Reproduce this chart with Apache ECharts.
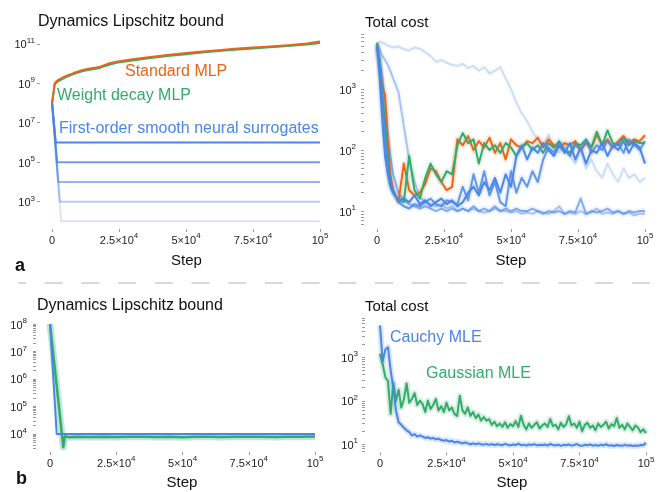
<!DOCTYPE html>
<html>
<head>
<meta charset="utf-8">
<script src="https://cdn.jsdelivr.net/npm/echarts@6/dist/echarts.min.js"></script>
<style>
  html, body { margin: 0; padding: 0; background: #fff; }
  #chart { width: 661px; height: 492px; }
</style>
</head>
<body>
<div id="chart"></div>
<script>
// x ticks shared by all four panels
const xTickValues = [0, 25000, 50000, 75000, 100000]
const xTickLabels = [['0', ''], ['2.5×10', '4'], ['5×10', '4'], ['7.5×10', '4'], ['10', '5']]

// panel a, left: dynamics Lipschitz bound
const lipSteps = [0, 1000, 2000, 5000, 8000, 11500, 14000, 16500, 18000, 21000, 24000, 30000, 36000, 43000, 50000, 55000, 62000, 68000, 75000, 80000, 88000, 95000, 100000]
const lipStandard = [1e8, 1e9, 1.4e9, 2.3e9, 3.3e9, 4.8e9, 5.6e9, 6.3e9, 7e9, 1e10, 1.25e10, 1.65e10, 2.1e10, 2.75e10, 3.4e10, 4e10, 4.8e10, 5.6e10, 6.5e10, 7.2e10, 8.6e10, 1.05e11, 1.3e11]
const lipWeightDecay = [1e8, 9e8, 1.2e9, 2e9, 2.9e9, 4.2e9, 4.8e9, 5.4e9, 6.2e9, 8.5e9, 1.1e10, 1.45e10, 1.85e10, 2.4e10, 3e10, 3.5e10, 4.3e10, 5e10, 5.8e10, 6.5e10, 7.7e10, 9.2e10, 1.1e11]
const lipSurrogateStart = 1e8
const lipSurrogateLevels = [1e6, 1e5, 1e4, 1e3, 1e2]
const lipSurrogateDropSteps = [1400, 1900, 2300, 2900, 3400]
const lipSurrogateOpacity = [1, 0.8, 0.6, 0.42, 0.22]
const lipYTicks = [1e3, 1e5, 1e7, 1e9, 1e11]

// panel a, right: total cost
const costSteps = [0, 1000, 2000, 3000, 4000, 5000, 6000,
  8000, 10000, 12000, 14000, 16000, 18000, 20000, 22000, 24000, 26000, 28000,
  30000, 32000, 34000, 36000, 38000, 40000, 42000, 44000, 46000, 48000, 50000,
  52000, 54000, 56000, 58000, 60000, 62000, 64000, 66000, 68000, 70000, 72000,
  74000, 76000, 78000, 80000, 82000, 84000, 86000, 88000, 90000, 92000, 94000, 96000, 98000, 100000]
const costStandard = [5400, 2500, 1100, 800, 150, 40, 22,
  14, 60, 22, 18, 20, 28, 50, 45, 30, 22, 25,
  150, 120, 170, 100, 140, 110, 160, 90, 130, 70, 150,
  120, 110, 140, 130, 160, 110, 150, 120, 110, 130, 120,
  140, 100, 130, 110, 180, 120, 150, 110, 140, 170, 130, 150, 140, 175]
const costWeightDecay = [5800, 3000, 800, 300, 80, 30, 20,
  15, 14, 80, 22, 16, 35, 60, 40, 30, 45, 40,
  120, 190, 130, 150, 60, 130, 100, 120, 90, 130, 110,
  80, 110, 130, 100, 120, 90, 130, 110, 140, 100, 90,
  130, 120, 150, 110, 200, 120, 210, 130, 120, 160, 120, 140, 130, 130]
const costSurrogateA = [5000, 1500, 300, 80, 40, 25, 20,
  15, 16, 14, 18, 13, 15, 12, 14, 16, 13, 15,
  12, 14, 20, 25, 18, 30, 22, 35, 20, 40, 25,
  80, 120, 70, 110, 90, 130, 100, 80, 120, 90, 130,
  70, 110, 60, 100, 90, 130, 80, 120, 100, 140, 90, 130, 110, 60]
const costSurrogateB = [5200, 2500, 700, 150, 60, 30, 22,
  14, 12, 11, 13, 12, 14, 16, 13, 12, 15, 14,
  13, 25, 15, 40, 20, 45, 18, 30, 14, 12, 45,
  20, 35, 25, 45, 30, 70, 110, 90, 130, 100, 80,
  120, 100, 140, 90, 120, 100, 140, 110, 130, 90, 150, 120, 100, 140]
const costSurrogateC = [4500, 3000, 1500, 600, 200, 80, 40,
  20, 15, 13, 12, 11, 12, 11, 10, 11, 10, 11,
  10, 11, 10, 12, 10, 11, 10, 12, 10, 11, 10,
  11, 10, 10, 11, 10, 9, 10, 9.5, 10, 9, 10,
  9.5, 16, 9, 10, 9.5, 10, 11, 9.5, 10, 9, 10, 9.5, 10, 10]
const costSurrogateD = [5500, 4500, 3500, 3000, 2500, 2000, 1500,
  900, 250, 70, 30, 17, 14, 13, 12, 13, 11, 12,
  10, 11, 10, 11, 10, 9.5, 10, 11, 10, 10, 9.5,
  10, 9, 9.5, 9, 10, 9.5, 9, 10, 12, 9, 9.5,
  9, 10, 9, 9.5, 11, 9, 9.5, 9, 10, 9, 9.5, 8.5, 9, 9]
const costSurrogateE = [5000, 6000, 5800, 5500, 5200, 5000, 4800,
  5000, 4500, 4300, 4800, 4600, 4000, 3500, 2800, 3000, 2700, 2500,
  2400, 2600, 2200, 2400, 2000, 2300, 1800, 2000, 2300, 1500, 1000,
  600, 400, 300, 200, 150, 120, 180, 100, 90, 130, 80,
  60, 100, 50, 70, 45, 35, 60, 40, 30, 50, 35, 40, 30, 35]
const costYTicks = [10, 100, 1000]

// panel b, left: dynamics Lipschitz bound
const lipBCauchySteps = [0, 2500, 100000]
const lipBCauchy = [1e8, 1e4, 1e4]
const lipBGaussSteps = [0, 5000, 5600, 7000, 10000, 15000, 20000, 25000, 30000, 35000, 40000, 45000, 50000, 55000, 60000, 65000, 70000, 75000, 80000, 85000, 90000, 95000, 100000]
const lipBGauss = [1e8, 3300, 8200, 7600, 7800, 7700, 7900, 7700, 7800, 7900, 7700, 7800, 7600, 7800, 7900, 7700, 7800, 7900, 7800, 7700, 7900, 7800, 8000]
const lipBYTicks = [1e4, 1e5, 1e6, 1e7, 1e8]

// panel b, right: total cost
const costBSteps = [0, 1000, 2000, 3000, 4000, 5000, 6000, 7000, 8000, 9000, 10000,
  11000, 12000, 13000, 14000, 15000, 16000, 17000, 18000, 19000, 20000,
  21000, 22000, 23000, 24000, 25000, 26000, 27000, 28000, 29000, 30000,
  31000, 32000, 33000, 34000, 35000, 36000, 37000, 38000, 39000, 40000,
  41000, 42000, 43000, 44000, 45000, 46000, 47000, 48000, 49000, 50000,
  51000, 52000, 53000, 54000, 55000, 56000, 57000, 58000, 59000, 60000,
  61000, 62000, 63000, 64000, 65000, 66000, 67000, 68000, 69000, 70000,
  71000, 72000, 73000, 74000, 75000, 76000, 77000, 78000, 79000, 80000,
  81000, 82000, 83000, 84000, 85000, 86000, 87000, 88000, 89000, 90000,
  91000, 92000, 93000, 94000, 95000, 96000, 97000, 98000, 99000, 100000]
const costBCauchy = [5400, 800, 1500, 1700, 500, 200, 60, 32, 28, 24, 21,
  19, 16, 17, 15, 16, 15, 14, 14.5, 13.5, 14,
  13, 13.5, 12.5, 12, 12.5, 11.5, 12, 11, 11.5, 11,
  10.5, 11, 10.5, 10, 10.5, 10, 10.5, 10, 9.8, 10.2,
  9.7, 10.1, 9.6, 10, 9.8, 9.5, 10.2, 9.7, 9.4, 9.9,
  9.6, 10.3, 9.5, 9.8, 9.3, 9.9, 9.6, 10.1, 9.4, 9.7,
  9.5, 9.9, 9.3, 10.2, 9.6, 9.4, 9.8, 9.2, 9.7, 9.5,
  9.9, 9.3, 9.6, 10.1, 9.4, 9.2, 9.7, 9.5, 9.9, 9.3,
  9.6, 9.2, 9.8, 9.4, 10, 9.3, 9.5, 9.1, 9.6, 9.4,
  9.2, 9.7, 9.3, 9.5, 9.1, 9.4, 9.2, 9.6, 9.5, 10.8]
const costBGauss = [1200, 700, 350, 280, 50, 260, 100, 180, 70, 110, 250,
  90, 110, 150, 80, 100, 85, 55, 100, 65, 80,
  110, 60, 75, 55, 90, 60, 70, 50, 45, 130,
  60, 50, 70, 45, 55, 40, 48, 35, 42, 35,
  38, 28, 33, 26, 30, 25, 32, 24, 29, 26,
  34, 25, 45, 28, 22, 30, 24, 28, 32, 23,
  27, 30, 25, 38, 26, 28, 22, 31, 25, 29,
  44, 27, 30, 24, 33, 20, 28, 31, 24, 27,
  21, 30, 25, 28, 33, 23, 29, 26, 40, 24,
  28, 22, 30, 25, 21, 27, 24, 19, 22, 18]
const costBYTicks = [10, 100, 1000]

const ORANGE = '#ec6416'
const GREEN = '#33ab6c'
const BLUE = '#4a86e8'
const FONT = '"Liberation Sans", Arial, Helvetica, sans-serif'

// all log ticks (1..9 x 10^d) between lo and hi
function logTicks(lo, hi) {
  const out = []
  for (let d = Math.floor(Math.log10(lo)); d <= Math.ceil(Math.log10(hi)); d++) {
    for (let m = 1; m < 10; m++) {
      const v = m * Math.pow(10, d)
      if (v >= lo * 0.999 && v <= hi * 1.001) out.push(v)
    }
  }
  return out
}

function pairs(xs, ys) {
  return xs.map((x, i) => [x, ys[i]])
}

const supRich = {
  b: { fontSize: 11, color: '#222', fontFamily: FONT, verticalAlign: 'bottom', lineHeight: 14 },
  s: { fontSize: 8, color: '#222', fontFamily: FONT, verticalAlign: 'top', lineHeight: 14 },
}

// frame starts a little before step 0, like the original plot range
function xAxis(gi, min, nameGap) {
  return {
    type: 'value', gridIndex: gi, min: min, max: 100000,
    name: 'Step', nameLocation: 'middle', nameGap: nameGap,
    nameTextStyle: { fontSize: 15, color: '#111', fontFamily: FONT, padding: [0, 0, 0, 13] },
    axisLine: { show: false, onZero: false },
    splitLine: { show: false },
    axisTick: { length: 3, customValues: xTickValues, lineStyle: { color: '#999' } },
    axisLabel: {
      margin: 3,
      customValues: xTickValues,
      formatter: (v) => {
        const i = xTickValues.indexOf(v)
        if (i < 0) return ''
        const [b, s] = xTickLabels[i]
        return s ? `{b|${b}}{s|${s}}` : `{b|${b}}`
      },
      rich: supRich,
    },
  }
}

function yAxis(gi, min, max, labels, ticks, margin) {
  return {
    type: 'log', gridIndex: gi, min: min, max: max,
    axisLine: { show: false, onZero: false },
    splitLine: { show: false },
    axisTick: { length: 3, customValues: ticks, lineStyle: { color: '#999' } },
    axisLabel: {
      margin: margin,
      customValues: labels,
      formatter: (v) => `{b|10}{s|${Math.round(Math.log10(v))}}`,
      rich: supRich,
    },
  }
}

function line(gi, data, color, opacity, width, z) {
  return {
    type: 'line', xAxisIndex: gi, yAxisIndex: gi, data: data,
    showSymbol: false, silent: true, animation: false, z: z,
    lineStyle: { color: color, opacity: Math.min(opacity, 1), width: width, join: 'round' },
  }
}

function costLine(gi, xs, ys, color, opacity, z) {
  return [
    line(gi, pairs(xs, ys), color, opacity * 0.13, 6, z),
    line(gi, pairs(xs, ys), color, opacity, 2, z + 1),
  ]
}

const series = []
lipSurrogateLevels.forEach((lvl, i) => {
  series.push(line(0, [[0, lipSurrogateStart], [lipSurrogateDropSteps[i], lvl], [100000, lvl]], BLUE, lipSurrogateOpacity[i], 2, 2))
})
series.push(line(0, pairs(lipSteps, lipWeightDecay), GREEN, 1, 2, 3))
series.push(line(0, pairs(lipSteps, lipStandard), ORANGE, 1, 2, 4))

series.push(...costLine(1, costSteps, costSurrogateE, BLUE, 0.25, 2))
series.push(...costLine(1, costSteps, costSurrogateD, BLUE, 0.45, 2))
series.push(...costLine(1, costSteps, costSurrogateC, BLUE, 0.65, 2))
series.push(...costLine(1, costSteps, costStandard, ORANGE, 1, 4))
series.push(...costLine(1, costSteps, costWeightDecay, GREEN, 1, 4))
series.push(...costLine(1, costSteps, costSurrogateB, BLUE, 0.85, 6))
series.push(...costLine(1, costSteps, costSurrogateA, BLUE, 1, 6))

series.push(line(2, pairs(lipBGaussSteps, lipBGauss), GREEN, 0.3, 7, 2))
series.push(line(2, pairs(lipBGaussSteps, lipBGauss), GREEN, 1, 2.5, 3))
series.push(line(2, pairs(lipBCauchySteps, lipBCauchy), BLUE, 1, 2, 4))

series.push(...costLine(3, costBSteps, costBGauss, GREEN, 1.6, 2))
series.push(...costLine(3, costBSteps, costBCauchy, BLUE, 1.6, 4))

const titleStyle = (size) => ({ fontSize: size, fontWeight: 'normal', color: '#111', fontFamily: FONT })

const option = {
  backgroundColor: '#fff',
  animation: false,
  title: [
    { text: 'Dynamics Lipschitz bound', left: 38, top: 14, padding: 0, textStyle: titleStyle(16) },
    { text: 'Total cost', left: 365, top: 15, padding: 0, textStyle: titleStyle(15) },
    { text: 'Dynamics Lipschitz bound', left: 37, top: 298, padding: 0, textStyle: titleStyle(16) },
    { text: 'Total cost', left: 365, top: 299, padding: 0, textStyle: titleStyle(15) },
  ],
  grid: [
    { left: 40, top: 36, width: 280, height: 193, outerBoundsMode: 'none' },
    { left: 364, top: 34, width: 281, height: 195, outerBoundsMode: 'none' },
    { left: 36, top: 324, width: 279, height: 128, outerBoundsMode: 'none' },
    { left: 365, top: 318, width: 281, height: 134.4, outerBoundsMode: 'none' },
  ],
  xAxis: [xAxis(0, -4500, 24), xAxis(1, -4850, 24), xAxis(2, -5300, 23), xAxis(3, -5640, 23)],
  yAxis: [
    yAxis(0, 41, 2.5e11, lipYTicks, lipYTicks, 5),
    yAxis(1, 5.08, 8000, costYTicks, logTicks(5.7, 8000), 8),
    yAxis(2, 2190, 1e8, lipBYTicks, logTicks(3000, 1e8), 9),
    yAxis(3, 6.5, 8000, costBYTicks, logTicks(6.5, 8000), 7),
  ],
  graphic: [
    { type: 'text', left: 125, top: 64, style: { text: 'Standard MLP', fill: ORANGE, font: `16px ${FONT}` } },
    { type: 'text', left: 57, top: 88, style: { text: 'Weight decay MLP', fill: GREEN, font: `16px ${FONT}` } },
    { type: 'text', left: 59, top: 121, style: { text: 'First-order smooth neural surrogates', fill: BLUE, font: `16px ${FONT}` } },
    { type: 'text', left: 390, top: 330, style: { text: 'Cauchy MLE', fill: BLUE, font: `16px ${FONT}` } },
    { type: 'text', left: 426, top: 366, style: { text: 'Gaussian MLE', fill: GREEN, font: `16px ${FONT}` } },
    { type: 'text', left: 15, top: 257, style: { text: 'a', fill: '#111', font: `bold 18px ${FONT}` } },
    { type: 'text', left: 16, top: 470, style: { text: 'b', fill: '#111', font: `bold 18px ${FONT}` } },
    {
      type: 'line', shape: { x1: 18, y1: 283, x2: 650, y2: 283 },
      style: { stroke: '#cccccc', lineWidth: 1.5, lineDash: [18, 18.7], lineDashOffset: 10 },
    },
  ],
  series: series,
}

const chart = echarts.init(document.getElementById('chart'), null, { renderer: 'canvas' })
chart.setOption(option)
</script>
</body>
</html>
